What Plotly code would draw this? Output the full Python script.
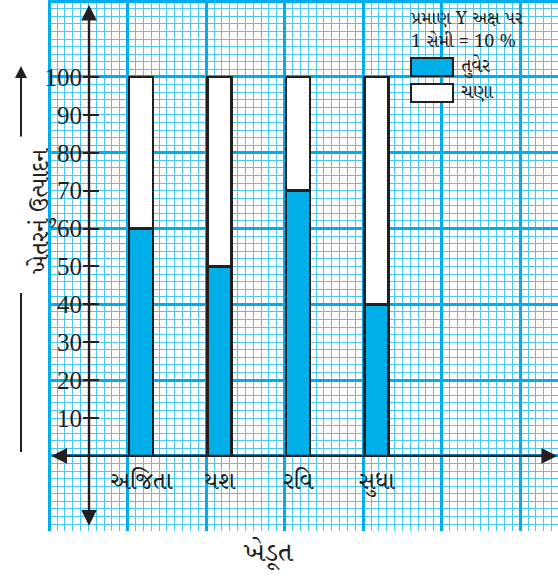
import plotly.graph_objects as go

# --- data ---
farmers = ["અજિતા", "યશ", "રવિ", "સુધા"]
tuver = [60, 50, 70, 40]   # તુવેર (%)
chana = [40, 50, 30, 60]   # ચણા (%)
y_ticks = [10, 20, 30, 40, 50, 60, 70, 80, 90, 100]

# --- page geometry (pixels) ---
W, H = 558, 583
ML, MB = 48, 52
PW, PH = W - ML, H - MB


def px(p):
    return (p - ML) / PW


def py(p):
    return (PH - p) / PH


X_RANGE = [-1.185, 5.312]
Y_RANGE = [-19.82, 120.32]
INK = "#231f20"
CYAN = "#00aeef"
CYAN_MINOR = "#4cc7f1"
GUJ = "Noto Serif Gujarati, Noto Sans Gujarati, Lohit Gujarati, serif"

xpos = list(range(len(farmers)))

fig = go.Figure()
fig.add_trace(go.Bar(x=xpos, y=tuver, name="તુવેર", width=0.306,
                     marker=dict(color="#00aee8", line=dict(color=INK, width=2.5))))
fig.add_trace(go.Bar(x=xpos, y=chana, name="ચણા", width=0.306,
                     marker=dict(color="white", line=dict(color=INK, width=2.5))))
# invisible trace so the label axes exist
fig.add_trace(go.Scatter(x=[xpos[0]], y=[y_ticks[0]], xaxis="x2", yaxis="y2",
                         mode="markers", marker=dict(opacity=0), showlegend=False,
                         hoverinfo="skip"))

fig.update_layout(
    width=W, height=H,
    margin=dict(l=ML, r=0, t=0, b=MB, autoexpand=False),
    barmode="stack",
    showlegend=False,
    paper_bgcolor="white",
    plot_bgcolor="white",
    xaxis=dict(range=X_RANGE, showticklabels=False, ticks="", zeroline=False,
               automargin=False,
               tick0=-0.17, dtick=1, showgrid=True, gridcolor=CYAN, gridwidth=2.5,
               minor=dict(tick0=-0.17, dtick=0.1, showgrid=True,
                          gridcolor=CYAN_MINOR, gridwidth=1.3)),
    yaxis=dict(range=Y_RANGE, showticklabels=False, ticks="", zeroline=False,
               automargin=False,
               tick0=0, dtick=20, showgrid=True, gridcolor=CYAN, gridwidth=2.5,
               minor=dict(tick0=0, dtick=2, showgrid=True,
                          gridcolor=CYAN_MINOR, gridwidth=1.3)),
    xaxis2=dict(range=X_RANGE, overlaying="x", anchor="free", position=py(456),
                tickvals=xpos, ticktext=farmers, ticks="", showgrid=False,
                zeroline=False, showline=False, ticklabelstandoff=8,
                automargin=False,
                tickfont=dict(family=GUJ, size=24, color=INK)),
    yaxis2=dict(range=Y_RANGE, overlaying="y", anchor="free", position=px(82),
                side="left", tickvals=y_ticks, ticks="inside", ticklen=16,
                tickwidth=2, tickcolor=INK, showgrid=False, zeroline=False,
                showline=False, ticklabelstandoff=0, automargin=False,
                tickfont=dict(family="Liberation Serif, serif", size=25, color=INK)),
)

# axis lines with arrows
y_axis_x = (89 - 141) / 78.5
fig.add_annotation(x=y_axis_x, y=119.0, ax=y_axis_x, ay=-18.8, xref="x", yref="y",
                   axref="x", ayref="y", text="", showarrow=True, arrowhead=2,
                   arrowside="end+start", arrowsize=1.3, arrowwidth=2.4,
                   arrowcolor=INK)
fig.add_annotation(x=5.30, y=0, ax=-1.16, ay=0, xref="x", yref="y",
                   axref="x", ayref="y", text="", showarrow=True, arrowhead=2,
                   arrowside="end+start", arrowsize=1.3, arrowwidth=2.4,
                   arrowcolor=INK)

# y-axis title with arrow
fig.add_annotation(x=px(21), y=py(211), xref="paper", yref="paper",
                   text="ખેતરનું ઉત્પાદન", textangle=-90, showarrow=False,
                   font=dict(family=GUJ, size=24, color=INK))
fig.add_annotation(x=px(21), y=py(66), xref="paper", yref="paper", ax=0, ay=72,
                   text="", showarrow=True, arrowhead=2, arrowsize=1.2,
                   arrowwidth=2, arrowcolor=INK)
fig.add_shape(type="line", xref="paper", yref="paper", x0=px(21), x1=px(21),
              y0=py(293), y1=py(452), line=dict(color=INK, width=2))

# x-axis title
fig.add_annotation(x=px(268), y=py(553), xref="paper", yref="paper", text="ખેડૂત",
                   yanchor="middle", showarrow=False,
                   font=dict(family=GUJ, size=27, color=INK))

# legend / scale note
fig.add_annotation(x=px(408), y=py(30), xref="paper", yref="paper", xanchor="left",
                   yanchor="middle", align="left",
                   text="પ્રમાણ Y અક્ષ પર<br>1 સેમી = 10 %", showarrow=False,
                   font=dict(family=GUJ, size=18, color=INK))
fig.add_shape(type="rect", xref="paper", yref="paper", x0=px(411), x1=px(453),
              y0=py(58), y1=py(76), fillcolor="#00aee8", line=dict(color=INK, width=2))
fig.add_shape(type="rect", xref="paper", yref="paper", x0=px(411), x1=px(453),
              y0=py(84), y1=py(102), fillcolor="white", line=dict(color=INK, width=2))
fig.add_annotation(x=px(459), y=py(67), xref="paper", yref="paper", xanchor="left",
                   yanchor="middle", text="તુવેર", showarrow=False,
                   font=dict(family=GUJ, size=19, color=INK))
fig.add_annotation(x=px(459), y=py(93), xref="paper", yref="paper", xanchor="left",
                   yanchor="middle", text="ચણા", showarrow=False,
                   font=dict(family=GUJ, size=19, color=INK))

fig.write_html("out.html", post_script="document.body.style.margin='0';",
               config={"displayModeBar": False})
